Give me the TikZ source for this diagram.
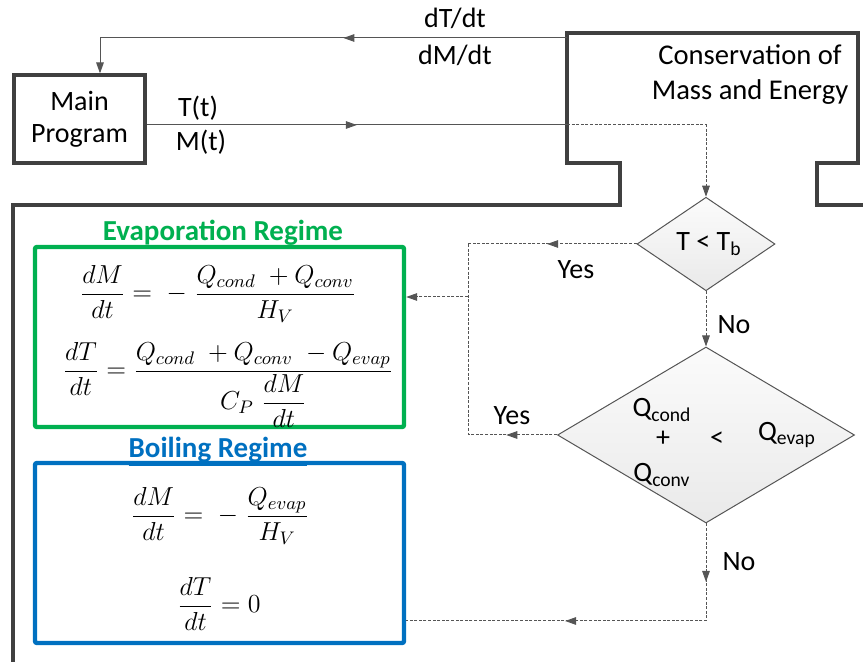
\RequirePackage{fix-cm}
\documentclass[tikz,border=0pt]{standalone}
\usepackage[no-math]{fontspec}
\setmainfont{Carlito}
\usetikzlibrary{shapes.geometric,arrows.meta,decorations.markings}
\definecolor{frameC}{HTML}{404040}
\definecolor{lineC}{HTML}{555555}
\definecolor{evapC}{HTML}{00B050}
\definecolor{boilC}{HTML}{0070C0}
\begin{document}
\begin{tikzpicture}[x=0.5pt,y=-0.5pt,
  font=\fontsize{14}{17}\selectfont,
  frame/.style={draw=frameC, line width=1.6pt},
  flow/.style={draw=lineC, line width=0.5pt},
  dflow/.style={flow, dash pattern=on 1.5pt off 0.8pt},
  tip/.style={-{Triangle[length=5.5pt,width=3.8pt]}},
  midarrow/.style={postaction={decorate}, decoration={markings, mark=at position #1 with {\arrow{Triangle[length=5.5pt,width=3.8pt]}}}},
  midarrows/.style 2 args={postaction={decorate}, decoration={markings,
     mark=at position #1 with {\arrow{Triangle[length=5.5pt,width=3.8pt]}},
     mark=at position #2 with {\arrow{Triangle[length=5.5pt,width=3.8pt]}}}},
  decision/.style={diamond, draw=lineC, line width=0.5pt, top color=gray!3, bottom color=gray!17, inner sep=0pt},
  regime/.style={draw=#1, line width=2.2pt, rounded corners=1pt, minimum width=184.5pt, minimum height=90pt, inner sep=0pt},
  eq/.style={font=\fontsize{13}{16}\selectfont, inner sep=0pt},
  lbl/.style={inner sep=0pt},
  title/.style={inner sep=0pt, font=\fontsize{14.5}{17}\selectfont\bfseries}
]
\useasboundingbox (0,0) rectangle (863,662);

% big frame (conservation block)
\draw[frame] (13,670) -- (13,205) -- (620,205) -- (620,163) -- (567,163) -- (567,33)
  -- (858,33) -- (858,163) -- (817,163) -- (817,205) -- (870,205);
\node[lbl, align=center, font=\fontsize{14.3}{17.5}\selectfont] (cons) at (750,75) {Conservation of\\Mass and Energy};
\coordinate (consL) at (567,38);
\coordinate (consin) at (567,125);

% main program
\node[frame, minimum width=65.5pt, minimum height=44pt, align=center, inner sep=0pt,
      font=\fontsize{14}{16}\selectfont] (main) at (79.5,119) {Main\\Program};

% labels top
\node[lbl] (ldT) at (455,18) {dT/dt};
\node[lbl] (ldM) at (455,55) {dM/dt};
\node[lbl] (lT) at (198,108) {T(t)};
\node[lbl] (lM) at (201,142) {M(t)};

% decisions
\node[decision, minimum width=69pt, minimum height=42pt] (d1) at (706,244) {\hspace{3pt}T < T\textsubscript{b}};
\node[decision, minimum width=148.5pt, minimum height=88pt] (d2) at (706,435) {};
\node[lbl] (qc) at (662,410) {Q\textsubscript{cond}};
\node[lbl] (qp) at (663,439) {+};
\node[lbl] (qlt) at (717,439) {<};
\node[lbl] (qe) at (787,435) {Q\textsubscript{evap}};
\node[lbl] (qv) at (662,475) {Q\textsubscript{conv}};

% regimes
\node[regime=evapC] (evap) at (219.5,337) {};
\node[regime=boilC] (boil) at (219.5,553) {};
\node[title, text=evapC] (tevap) at (223,235) {\underline{Evaporation Regime}};
\node[title, text=boilC] (tboil) at (218,452) {\underline{Boiling Regime}};

\node[eq] (e1) at (218,294) {$\displaystyle \frac{dM}{dt} =\;-\;\frac{Q_{cond}\;+Q_{conv}}{H_V}$};
\node[eq] (e2) at (228,385) {$\displaystyle \frac{dT}{dt} = \frac{Q_{cond}\;+Q_{conv}\;-Q_{evap}}{C_P\;\displaystyle\frac{dM}{dt}}$};
\node[eq] (e3) at (220,516) {$\displaystyle \frac{dM}{dt} =\;-\;\frac{Q_{evap}}{H_V}$};
\node[eq] (e4) at (219,604) {$\displaystyle \frac{dT}{dt} = 0$};

% connectors
\coordinate (j1) at (468,244);
\coordinate (j2) at (468,435);
\coordinate (j3) at (468,297);
\coordinate (j4) at (706,621);

\draw[flow, tip, midarrow=0.445] (consL) -| ([xshift=10.25pt]main.north);
\draw[flow, midarrow=0.5] ([yshift=-3pt]main.east) -- (consin);
\draw[dflow, tip] (consin) -| (d1.north);
\draw[dflow, midarrow=0.53] (d1.west) -- (j1);
\draw[dflow] (j1) -- (j2);
\draw[dflow, midarrow=0.57] (d2.west) -- (j2);
\draw[dflow, tip] (j3) -- (evap.east |- j3);
\draw[dflow, tip] (d1.south) -- (d2.north);
\draw[dflow, midarrows={0.147}{0.6}] (d2.south) -- (j4) -- (boil.east |- j4);

\node[lbl] (y1) at (576,270) {Yes};
\node[lbl] (y2) at (512,416) {Yes};
\node[lbl] (n1) at (734,325) {No};
\node[lbl] (n2) at (739,562) {No};
\end{tikzpicture}
\end{document}
